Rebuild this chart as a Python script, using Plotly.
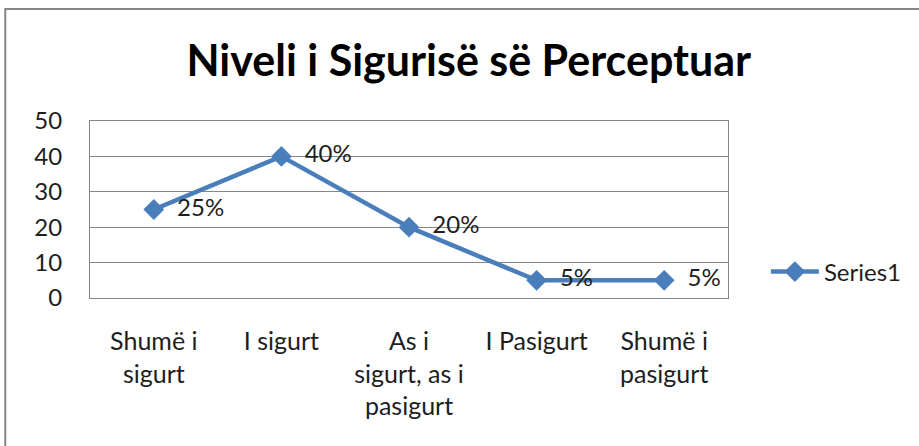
import plotly.graph_objects as go

categories = ["Shumë i<br>sigurt", "I sigurt", "As i<br>sigurt, as i<br>pasigurt", "I Pasigurt", "Shumë i<br>pasigurt"]
values = [25, 40, 20, 5, 5]
labels = ["25%", "40%", "20%", "5%", "5%"]
y_ticks = [0, 10, 20, 30, 40, 50]

FONT = "Lato"
BLUE = "#4A7EBB"
TXT = "#1e1e1e"

fig = go.Figure()
fig.add_trace(go.Scatter(
    x=categories, y=values, mode="lines+markers+text", name="Series1",
    text=["  " + t for t in labels], textposition="middle right",
    textfont=dict(family=FONT, size=24, color=TXT),
    line=dict(color=BLUE, width=4.5),
    marker=dict(symbol="diamond", size=16, color=BLUE),
))

L, R, T, B = 90, 189, 121, 148
W, H = 919 - L - R, 446 - T - B

def px(x):
    return (x - L) / W

def py(y):
    return (446 - B - y) / H

fig.update_layout(
    width=919, height=446,
    margin=dict(l=L, r=R, t=T, b=B),
    paper_bgcolor="white", plot_bgcolor="white",
    font=dict(family=FONT, size=24, color=TXT),
    title=dict(text="<b>Niveli i Sigurisë së Perceptuar</b>", x=px(470), xanchor="center",
               xref="paper", y=1 - 61 / 446, yref="container", yanchor="middle",
               font=dict(family=FONT, size=43, color="black")),
    showlegend=True,
    legend=dict(x=px(768), y=py(272), xanchor="left", yanchor="middle",
                font=dict(family=FONT, size=24, color=TXT), itemwidth=48,
                bgcolor="rgba(0,0,0,0)"),
    shapes=[dict(type="rect", xref="paper", yref="paper",
                 x0=px(5), x1=px(930), y0=py(460), y1=py(9),
                 line=dict(color="#868686", width=2), fillcolor="rgba(0,0,0,0)", layer="below")],
)
fig.update_xaxes(type="category", range=[-0.5, 4.5], showgrid=False,
                 showline=True, linecolor="#868686", linewidth=1, mirror=True,
                 ticks="", ticklabelstandoff=21, tickfont=dict(family=FONT, size=25, color=TXT))
fig.update_yaxes(range=[0, 50], tickvals=y_ticks, showgrid=True, gridcolor="#868686", gridwidth=1,
                 showline=True, linecolor="#868686", linewidth=1, mirror=True, zeroline=False,
                 ticks="", ticklabelstandoff=22, tickfont=dict(family=FONT, size=24, color=TXT))

fig.write_html("out.html", config={"displayModeBar": False},
               post_script="document.body.style.margin='0px';")
